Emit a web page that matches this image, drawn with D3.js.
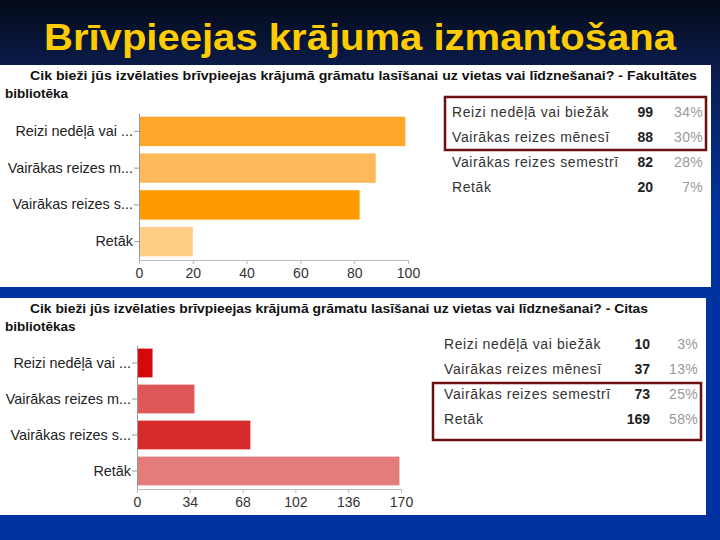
<!DOCTYPE html>
<html>
<head>
<meta charset="utf-8">
<script src="https://cdn.jsdelivr.net/npm/d3@7"></script>
<style>
  body { margin: 0; background: #0033a0; }
  svg { display: block; }
  text { font-family: "Liberation Sans", Arial, sans-serif; }
</style>
</head>
<body>
<div id="wrapper"></div>
<script>
var W = 720, H = 540;

// data
var slideTitle = "Brīvpieejas krājuma izmantošana";
var question = "Cik bieži jūs izvēlaties brīvpieejas krājumā grāmatu lasīšanai uz vietas vai līdznešanai?";
var groups = ["Fakultātes", "Citas"];
var groupSecond = ["bibliotēka", "bibliotēkas"];
var shortLabels = ["Reizi nedēļā vai ...", "Vairākas reizes m...", "Vairākas reizes s...", "Retāk"];
var fullLabels = ["Reizi nedēļā vai biežāk", "Vairākas reizes mēnesī", "Vairākas reizes semestrī", "Retāk"];
var facultyCounts = [99, 88, 82, 20];
var facultyPercents = ["34%", "30%", "28%", "7%"];
var otherCounts = [10, 37, 73, 169];
var otherPercents = ["3%", "13%", "25%", "58%"];
var facultyTicks = [0, 20, 40, 60, 80, 100];
var otherTicks = [0, 34, 68, 102, 136, 170];
var facultyHighlight = [0, 1];
var otherHighlight = [2, 3];

var panels = [
  {top: 65, bottom: 287, right: 711, counts: facultyCounts, pct: facultyPercents, ticks: facultyTicks,
   x0: 139, x1: 408, y0: 113, y1: 260, titleEnd: 697,
   colors: ["#ffa62b", "#fdb95a", "#ff9a00", "#ffcd85"],
   tblX: 452, numX: 653, pctX: 703, rowY: 112, hl: facultyHighlight, box: [445, 97, 706, 150]},
  {top: 298, bottom: 515, right: 706, counts: otherCounts, pct: otherPercents, ticks: otherTicks,
   x0: 137, x1: 401, y0: 345, y1: 489, titleEnd: 648,
   colors: ["#d40a0a", "#e05757", "#d62b2b", "#e57c7c"],
   tblX: 444, numX: 650, pctX: 698, rowY: 344, hl: otherHighlight, box: [433, 383, 701, 440]}
];

var svg = d3.select("#wrapper").append("svg")
  .attr("width", W).attr("height", H);

var grad = svg.append("defs").append("linearGradient")
  .attr("id", "bg").attr("x1", 0).attr("y1", 0).attr("x2", 0).attr("y2", 1);
grad.append("stop").attr("offset", "0").attr("stop-color", "#040a18");
grad.append("stop").attr("offset", "0.13").attr("stop-color", "#0b1d4c");
grad.append("stop").attr("offset", "0.4").attr("stop-color", "#0033a0");
grad.append("stop").attr("offset", "1").attr("stop-color", "#0033a0");

svg.append("rect").attr("width", W).attr("height", H).attr("fill", "url(#bg)");

svg.append("text")
  .attr("x", 44).attr("y", 50)
  .attr("textLength", 632).attr("lengthAdjust", "spacingAndGlyphs")
  .style("font-size", "37px").style("font-weight", "bold")
  .style("fill", "#ffcc00")
  .text(slideTitle);

panels.forEach(function(p, pi) {
  var g = svg.append("g");

  g.append("rect")
    .attr("x", 0).attr("y", p.top)
    .attr("width", p.right).attr("height", p.bottom - p.top)
    .attr("fill", "white");

  // chart title (two lines)
  g.append("text")
    .attr("x", 30).attr("y", p.top + 15)
    .attr("textLength", p.titleEnd - 30).attr("lengthAdjust", "spacingAndGlyphs")
    .style("font-size", "13.5px").style("font-weight", "bold").style("fill", "#111")
    .text(question + " - " + groups[pi]);
  g.append("text")
    .attr("x", 5).attr("y", p.top + 33)
    .style("font-size", "13.5px").style("font-weight", "bold").style("fill", "#111")
    .text(groupSecond[pi]);

  var x = d3.scaleLinear()
    .domain([p.ticks[0], p.ticks[p.ticks.length - 1]])
    .range([p.x0, p.x1]);
  var y = d3.scaleBand()
    .domain(shortLabels)
    .range([p.y0, p.y1])
    .paddingInner(0.2).paddingOuter(0.1);

  g.selectAll("rect.bar")
    .data(p.counts)
    .enter()
    .append("rect")
    .attr("class", "bar")
    .attr("x", x(0))
    .attr("y", function(d, i) { return y(shortLabels[i]); })
    .attr("width", function(d) { return x(d) - x(0); })
    .attr("height", y.bandwidth())
    .attr("fill", function(d, i) { return p.colors[i]; });

  var yAxis = g.append("g")
    .attr("transform", "translate(" + x(0) + ",0)")
    .call(d3.axisLeft(y).tickSize(5).tickSizeOuter(0).tickPadding(1));
  yAxis.select(".domain").attr("stroke", "#999");
  yAxis.selectAll(".tick line").attr("stroke", "#999");
  yAxis.selectAll("text")
    .style("font-size", "14.4px").style("fill", "#222")
    .style("font-family", "'Liberation Sans', Arial, sans-serif");

  var xAxis = g.append("g")
    .attr("transform", "translate(0," + p.y1 + ")")
    .call(d3.axisBottom(x).tickValues(p.ticks).tickSize(4).tickSizeOuter(0).tickPadding(4));
  xAxis.select(".domain").attr("stroke", "#bbb");
  xAxis.selectAll(".tick line").attr("stroke", "#bbb");
  xAxis.selectAll("text")
    .style("font-size", "14px").style("fill", "#333")
    .style("font-family", "'Liberation Sans', Arial, sans-serif");

  // summary table
  var rows = g.selectAll("g.row")
    .data(fullLabels)
    .enter()
    .append("g")
    .attr("class", "row")
    .attr("transform", function(d, i) { return "translate(0," + (p.rowY + 5 + i * 25) + ")"; });
  rows.append("text")
    .attr("x", p.tblX)
    .style("font-size", "14px").style("letter-spacing", "0.6px").style("fill", "#333")
    .text(function(d) { return d; });
  rows.append("text")
    .attr("x", p.numX).attr("text-anchor", "end")
    .style("font-size", "14px").style("font-weight", "bold").style("fill", "#222")
    .text(function(d, i) { return p.counts[i]; });
  rows.append("text")
    .attr("x", p.pctX).attr("text-anchor", "end")
    .style("font-size", "14px").style("letter-spacing", "0.3px").style("fill", "#999")
    .text(function(d, i) { return p.pct[i]; });

  g.append("rect")
    .attr("x", p.box[0]).attr("y", p.box[1])
    .attr("width", p.box[2] - p.box[0]).attr("height", p.box[3] - p.box[1])
    .attr("fill", "none")
    .attr("stroke", "#6b0f12").attr("stroke-width", 2.5);
});
</script>
</body>
</html>
